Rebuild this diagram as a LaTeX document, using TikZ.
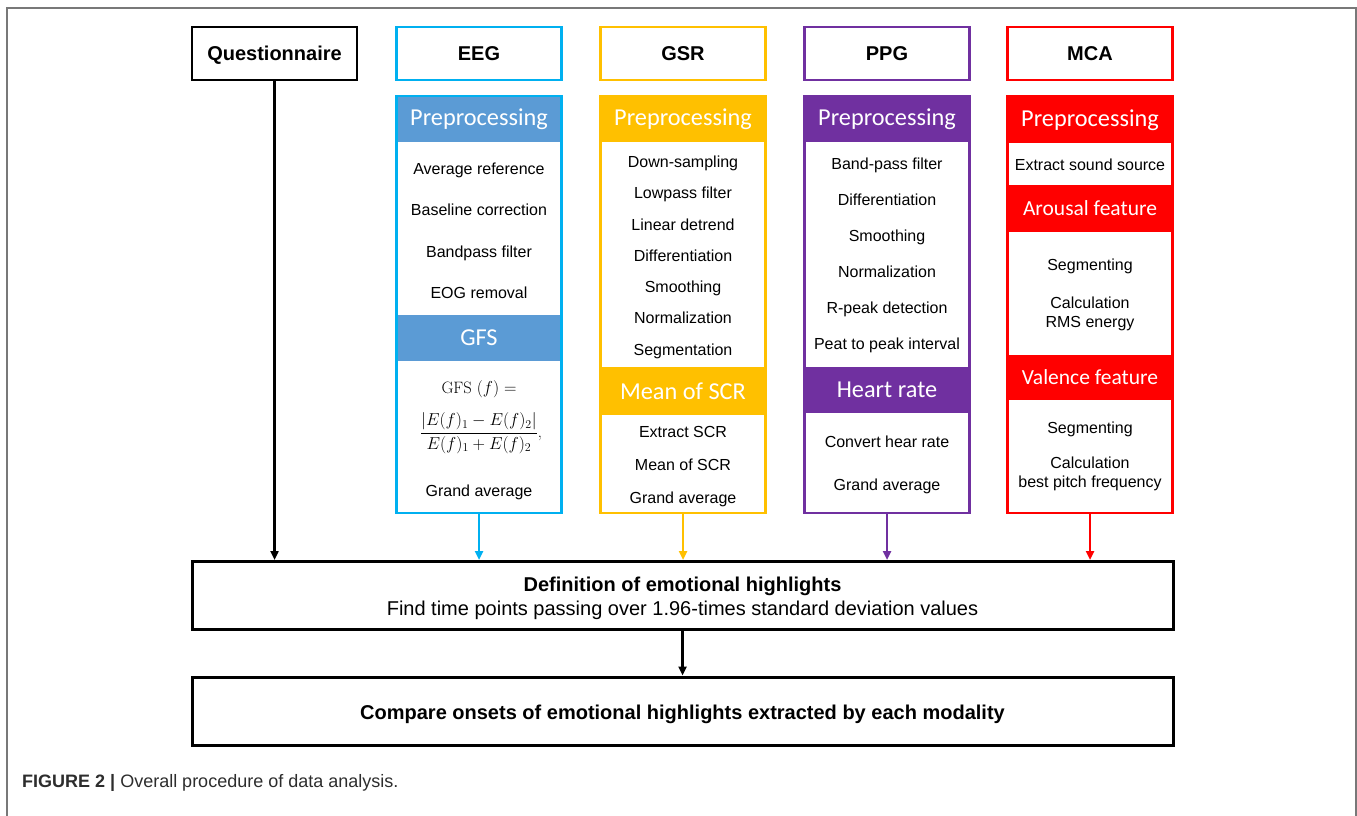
\documentclass[tikz,border=0pt]{standalone}
\usepackage{amsmath}
\usepackage{fontspec}
\newfontfamily\arialfont{Liberation Sans}
\newfontfamily\calibrifont{Carlito}
\usepackage{tikz}
\usetikzlibrary{arrows.meta, positioning}
\definecolor{eegblue}{HTML}{00B0F0}
\definecolor{eeghdr}{HTML}{5B9BD5}
\definecolor{gsryellow}{HTML}{FFC000}
\definecolor{ppgpurple}{HTML}{7030A0}
\definecolor{mcared}{HTML}{FF0000}
\definecolor{framegray}{RGB}{120,120,120}
\definecolor{captext}{RGB}{45,45,45}
\newcommand{\highstrut}{\rule{0pt}{21pt}}
\tikzset{
  titlebox/.style={rectangle, draw, fill=white, line width=2.8pt,
    minimum width=165pt, minimum height=53pt, inner sep=0pt,
    text height=14pt, text depth=0pt,
    font=\fontsize{20}{23}\selectfont\arialfont\bfseries},
  panel/.style={rectangle, draw, fill=white, line width=2.8pt,
    minimum width=165pt, minimum height=417pt, inner sep=0pt},
  hdr/.style={rectangle, inner sep=0pt, minimum width=162.2pt,
    text=white, font=\fontsize{24.3}{28}\selectfont\calibrifont},
  subhdr/.style={hdr, font=\fontsize{21.5}{26}\selectfont\calibrifont},
  item/.style={inner sep=0pt, align=center, text height=12pt, text depth=3.5pt,
    font=\fontsize{16}{19}\selectfont\arialfont},
  twoline/.style={inner sep=0pt, align=center,
    font=\fontsize{16}{19}\selectfont\arialfont},
  eqn/.style={inner sep=0pt, font=\fontsize{16.5}{19}\selectfont\rmfamily},
  bigbox/.style={rectangle, draw, line width=3pt, minimum width=981pt,
    minimum height=68pt, inner sep=0pt, align=center,
    font=\fontsize{20}{24}\selectfont\arialfont},
  arrow/.style={-{Triangle[length=9pt, width=8pt]}, line width=2.5pt}
}

\begin{document}
\begin{tikzpicture}[x=1pt, y=-1pt]
  \useasboundingbox (0,0) rectangle (1357,816);

  % outer frame, open at the bottom
  \draw[framegray, line width=1.6pt] (7,816) -- (7,8) -- (1356,8) -- (1356,816);

  % titles
  \node[titlebox] (quest) at (274.5,53.5) {Questionnaire};
  \node[titlebox, draw=eegblue] (eeg) at (479,53.5) {EEG};
  \node[titlebox, draw=gsryellow] (gsr) at (683,53.5) {GSR};
  \node[titlebox, draw=ppgpurple] (ppg) at (887,53.5) {PPG};
  \node[titlebox, draw=mcared] (mca) at (1090,53.5) {MCA};

  % EEG column
  \node[panel, draw=eegblue] (eegbox) at (479,304.5) {};
  \node[hdr, fill=eeghdr, minimum height=44.6pt] (eegpre) at (479,119.7) {Preprocessing};
  \node[item] (eega) at (479,170) {Average reference};
  \node[item] (eegb) at (479,211) {Baseline correction};
  \node[item] (eegc) at (479,253) {Bandpass filter};
  \node[item] (eegd) at (479,294) {EOG removal};
  \node[hdr, fill=eeghdr, minimum height=46pt] (eeggfs) at (479,338) {GFS};
  \node[eqn] (eegeqa) at (479,389) {GFS $(f) =$};
  \node[eqn] (eegeqb) at (481,433) {$\dfrac{|E(f)_1 - E(f)_2|}{E(f)_1 + E(f)_2}$,};
  \node[item] (eege) at (479,492) {Grand average};

  % GSR column
  \node[panel, draw=gsryellow] (gsrbox) at (683,304.5) {};
  \node[hdr, fill=gsryellow, minimum height=44.6pt] (gsrpre) at (683,119.7) {Preprocessing};
  \node[item] (gsra) at (683,163) {Down-sampling};
  \node[item] (gsrb) at (683,194) {Lowpass filter};
  \node[item] (gsrc) at (683,226) {Linear detrend};
  \node[item] (gsrd) at (683,257) {Differentiation};
  \node[item] (gsre) at (683,288) {Smoothing};
  \node[item] (gsrf) at (683,319) {Normalization};
  \node[item] (gsrg) at (683,351) {Segmentation};
  \node[hdr, fill=gsryellow, minimum height=48pt] (gsrscr) at (683,391) {Mean of SCR};
  \node[item] (gsrh) at (683,433) {Extract SCR};
  \node[item] (gsri) at (683,466) {Mean of SCR};
  \node[item] (gsrj) at (683,499) {Grand average};

  % PPG column
  \node[panel, draw=ppgpurple] (ppgbox) at (887,304.5) {};
  \node[hdr, fill=ppgpurple, minimum height=44.6pt] (ppgpre) at (887,119.7) {Preprocessing};
  \node[item] (ppga) at (887,165) {Band-pass filter};
  \node[item] (ppgb) at (887,201) {Differentiation};
  \node[item] (ppgc) at (887,237) {Smoothing};
  \node[item] (ppgd) at (887,273) {Normalization};
  \node[item] (ppge) at (887,309) {R-peak detection};
  \node[item] (ppgf) at (887,345) {Peat to peak interval};
  \node[hdr, fill=ppgpurple, minimum height=46pt] (ppghr) at (887,390) {Heart rate};
  \node[item] (ppgg) at (887,443) {Convert hear rate};
  \node[item] (ppgh) at (887,486) {Grand average};

  % MCA column
  \node[panel, draw=mcared] (mcabox) at (1090,304.5) {};
  \node[hdr, fill=mcared, minimum height=45.6pt] (mcapre) at (1090,120.2) {Preprocessing};
  \node[item] (mcaa) at (1090,166) {Extract sound source};
  \node[subhdr, fill=mcared, minimum height=47pt] (mcaaro) at (1090,208.5) {Arousal feature};
  \node[item] (mcab) at (1090,266) {Segmenting};
  \node[twoline] (mcac) at (1090,314) {Calculation\\RMS energy};
  \node[subhdr, fill=mcared, minimum height=45pt] (mcaval) at (1090,377.5) {Valence feature};
  \node[item] (mcad) at (1090,429) {Segmenting};
  \node[twoline] (mcae) at (1090,474) {Calculation\\best pitch frequency};

  % common steps
  \node[bigbox] (defbox) at (682.5,595.5)
    {\highstrut\textbf{Definition of emotional highlights}\\Find time points passing over 1.96-times standard deviation values};
  \node[bigbox, font=\fontsize{20}{24}\selectfont\arialfont\bfseries] (cmpbox) at (682.5,711)
    {\highstrut Compare onsets of emotional highlights extracted by each modality};

  % arrows
  \draw[arrow] (quest) -- (quest |- defbox.north);
  \draw[arrow, eegblue] (eegbox) -- (eegbox |- defbox.north);
  \draw[arrow, gsryellow] (gsrbox) -- (gsrbox |- defbox.north);
  \draw[arrow, ppgpurple] (ppgbox) -- (ppgbox |- defbox.north);
  \draw[arrow, mcared] (mcabox) -- (mcabox |- defbox.north);
  \draw[arrow] (defbox) -- (cmpbox);

  % caption
  \node[anchor=west, inner sep=0pt, text=captext, font=\fontsize{18}{21}\selectfont\arialfont]
    (caption) at (22,783) {\textbf{FIGURE 2 |} Overall procedure of data analysis.};
\end{tikzpicture}
\end{document}
